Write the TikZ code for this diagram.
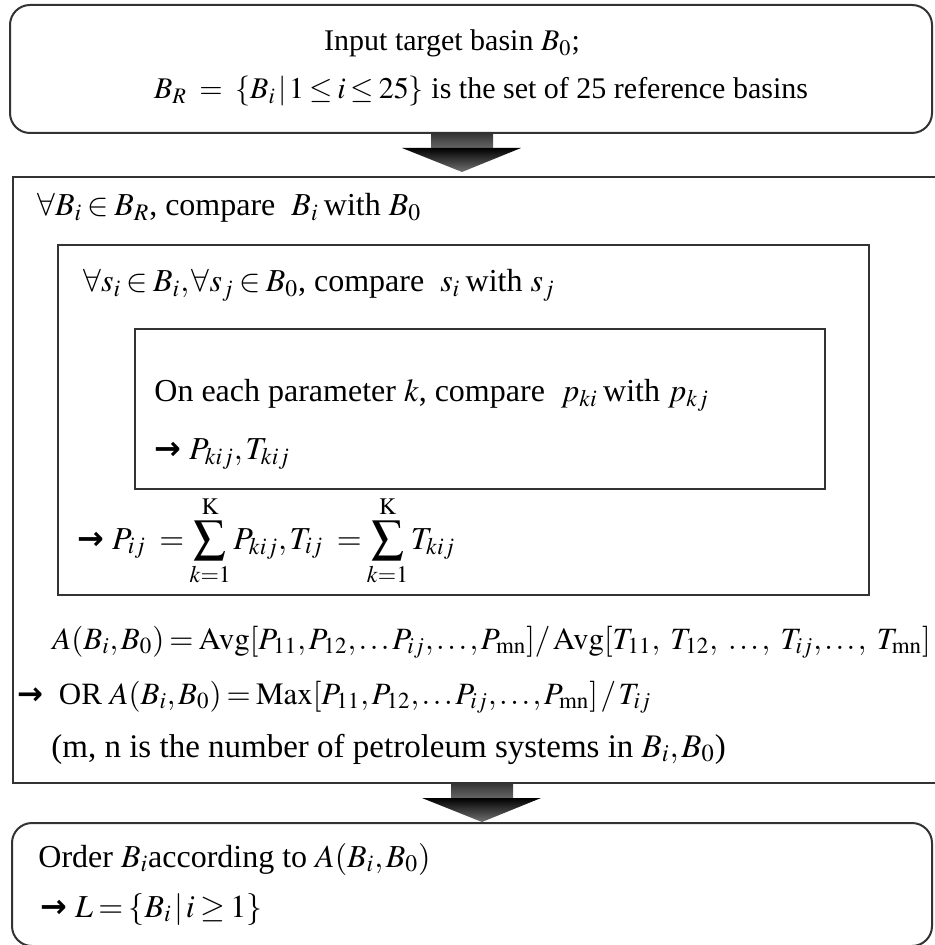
\documentclass[tikz,border=0pt]{standalone}
\usepackage{mathptmx}
\usepackage{fontspec}
\setmainfont{Liberation Serif}
\newfontfamily\arrowfont{DejaVu Sans}
\usepackage{tikz}
\usetikzlibrary{positioning}

\newcommand{\thickarr}{{\arrowfont\bfseries\char"2192}}
% block arrow between two stages: shaft then head
\newcommand{\blockarr}[2]{%
  \shade[top color=black!80, bottom color=black!60] (#1-31,#2) rectangle (#1+31,#2+15);
  \shade[top color=black, bottom color=black!55] (#1-60,#2+15) -- (#1+59,#2+15) -- (#1,#2+39) -- cycle;}
% compact math spacing
\thinmuskip=1.5mu \medmuskip=2mu \thickmuskip=3mu

\begin{document}
\begin{tikzpicture}[
    x=0.5pt, y=-0.5pt,
    frame/.style={draw=black!80, line width=1pt},
    stage/.style={frame, rounded corners=10pt},
    txt/.style={inner sep=0pt, anchor=base west, font=\fontsize{16}{19}\selectfont}]
    \useasboundingbox (0,0) rectangle (934,945);
    % boxes
    \draw[stage] (10,5) rectangle (932,133);
    \draw[frame] (13,177) rectangle (940,783);
    \draw[frame] (58,245) rectangle (869,595);
    \draw[frame] (135,329) rectangle (825,489);
    \draw[stage] (12,823) rectangle (932,946);
    % arrows
    \blockarr{462}{133}
    \blockarr{482}{783}
    % input
    \node[txt, anchor=base, font=\fontsize{15}{18}\selectfont] (input) at (452,51) {Input target basin $B_0$;};
    \node[txt, anchor=base, font=\fontsize{15}{18}\selectfont] (refset) at (481,99) {$B_R\ =\ \{B_i\,|\,1\le i\le 25\}$ is the set of 25 reference basins};
    % loop over basins
    \node[txt] (basins) at (37,216) {$\forall B_i\in B_R$, compare\ \ $B_i$\,with $B_0$};
    \node[txt] (systems) at (83,292) {$\forall s_i\in B_i,\forall s_j\in B_0$, compare\ \ $s_i$\,with $s_j$};
    \node[txt] (param) at (154,401) {On each parameter $k$, compare\ \ $p_{ki}$\,with $p_{kj}$};
    \node[txt] (pkij) at (154,459) {\thickarr\ $P_{kij},T_{kij}$};
    \node[txt] (pij) at (77,549) {\thickarr\ $P_{ij}\ =\displaystyle\sum_{k=1}^{\mathrm{K}}P_{kij},T_{ij}\ =\sum_{k=1}^{\mathrm{K}}T_{kij}$};
    \node[txt, font=\fontsize{15.5}{18}\selectfont] (avg) at (52,649) {$A(B_i,B_0)=\mathrm{Avg}[P_{11},P_{12},\ldots P_{ij},\ldots,P_{\mathrm{mn}}]/\,\mathrm{Avg}[T_{11},\ T_{12},\ \ldots,\ T_{ij},\ldots,\ T_{\mathrm{mn}}]$};
    \node[txt, font=\fontsize{15.5}{18}\selectfont] (max) at (17,704) {\thickarr\ \ OR $A(B_i,B_0)=\mathrm{Max}[P_{11},P_{12},\ldots P_{ij},\ldots,P_{\mathrm{mn}}]\,/\,T_{ij}$};
    \node[txt, font=\fontsize{16.5}{19}\selectfont] (note) at (51,757) {(m, n is the number of petroleum systems in $B_i,B_0$)};
    % ranking
    \node[txt] (order) at (38,867) {Order $B_i$according to $A(B_i,B_0)$};
    \node[txt] (result) at (40,917) {\thickarr\ $L=\{B_i\,|\,i\ge1\}$};
\end{tikzpicture}
\end{document}
